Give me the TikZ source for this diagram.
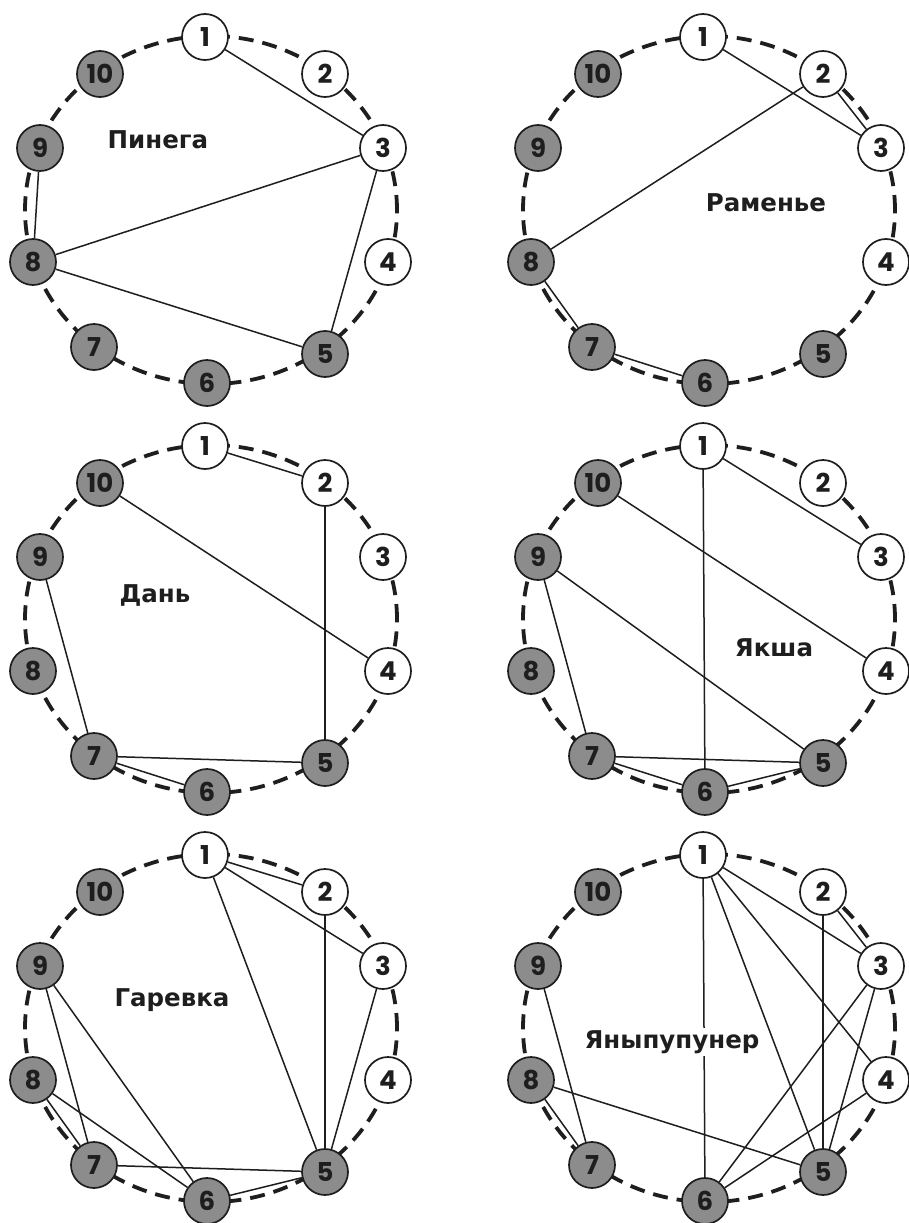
\documentclass[tikz,border=0pt]{standalone}
\usepackage{fontspec}
\newfontfamily\numfont{Poppins}
\newfontfamily\labfont{DejaVu Sans}
\definecolor{nodegray}{HTML}{8C8C8C}
\definecolor{ink}{HTML}{1E1E1E}
\newcommand\drawdiag[3]{%
  \begin{scope}[shift={(#1,#2)}]
    \draw[ring] (211,210) ellipse [x radius=186pt, y radius=174pt];
    \foreach \i/\x/\y in {1/205/37,2/325/74,3/383/148,4/388/262,5/325/354,6/207/383,7/94/347,8/33/262,9/40/148,10/100/74}{
      \ifnum\i<5
        \node[wvtx] (#3\i) at (\x,\y) {\i};
      \else
        \node[gvtx] (#3\i) at (\x,\y) {\i};
      \fi
    }
  \end{scope}}
\begin{document}
\begin{tikzpicture}[x=1pt,y=-1pt,
  vtx/.style={circle,draw=ink,line width=1.7pt,minimum size=46pt,inner sep=0pt,
    font=\numfont\bfseries\fontsize{26}{26}\selectfont,text=ink},
  wvtx/.style={vtx,fill=white},
  gvtx/.style={vtx,fill=nodegray},
  ring/.style={draw=ink,line width=3.8pt,dash pattern=on 15pt off 9pt},
  edge/.style={draw=ink,line width=1.5pt},
  lab/.style={font=\labfont\bfseries\fontsize{24.5}{24.5}\selectfont,text=ink,inner sep=2pt}]
\useasboundingbox (0,0) rectangle (908,1223);
\fill[white] (0,0) rectangle (908,1223);

\drawdiag{0}{0}{a}
\drawdiag{498}{0}{b}
\drawdiag{0}{409}{c}
\drawdiag{498}{409}{d}
\drawdiag{0}{818}{e}
\drawdiag{498}{818}{f}

% Pinega
\foreach \u/\v in {1/3,3/8,3/5,8/5,8/9}{\draw[edge] (a\u) -- (a\v);}
% Ramenye
\foreach \u/\v in {1/3,2/3,2/8,8/7,7/6}{\draw[edge] (b\u) -- (b\v);}
% Dan
\foreach \u/\v in {1/2,2/5,10/4,9/7,7/5,7/6}{\draw[edge] (c\u) -- (c\v);}
% Yaksha
\foreach \u/\v in {1/3,1/6,10/4,9/5,9/7,7/5,7/6,6/5}{\draw[edge] (d\u) -- (d\v);}
% Garevka
\foreach \u/\v in {1/2,1/3,1/5,2/5,3/5,9/7,9/6,8/7,8/6,7/5,6/5}{\draw[edge] (e\u) -- (e\v);}
% Yanypupuner
\foreach \u/\v in {1/6,1/5,1/4,1/3,2/3,2/5,3/6,3/5,4/6,8/5,8/7,9/7}{\draw[edge] (f\u) -- (f\v);}

\node[lab] (la) at (158,140) {Пинега};
\node[lab] (lb) at (766,203) {Раменье};
\node[lab] (lc) at (155,595) {Дань};
\node[lab] (ld) at (774,648) {Якша};
\node[lab] (le) at (172,1000) {Гаревка};
\node[lab,fill=white] (lf) at (672,1042) {Яныпупунер};
\end{tikzpicture}
\end{document}
